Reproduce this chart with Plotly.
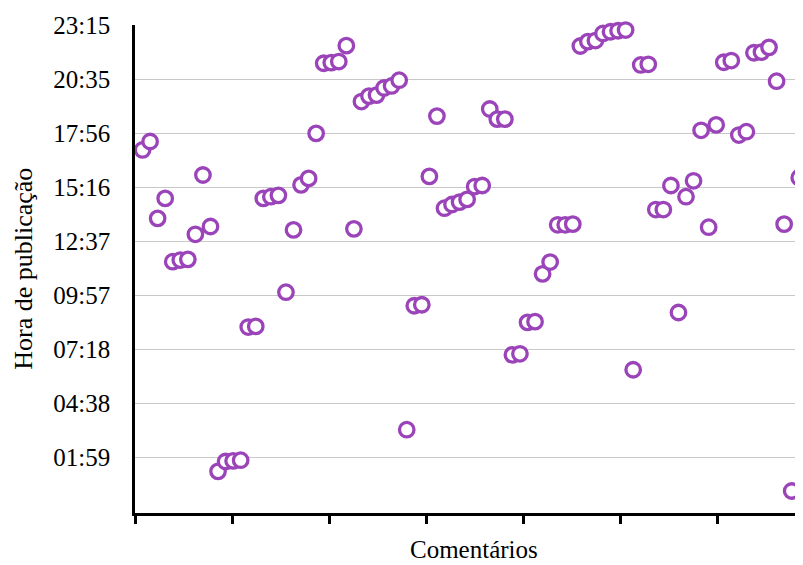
import plotly.graph_objects as go

# hora de publicação de cada comentário (HH:MM)
hora_publicacao = [
    "17:06", "17:31", "13:44", "14:43", "11:36", "11:41", "11:43", "12:57", "15:52", "13:20",
    "01:17", "01:46", "01:48", "01:50", "08:23", "08:25", "14:43", "14:48", "14:52", "10:06",
    "13:10", "15:23", "15:42", "17:55", "21:22", "21:24", "21:27", "22:14", "13:13", "19:29",
    "19:45", "19:48", "20:09", "20:15", "20:32", "03:20", "09:26", "09:29", "15:48", "18:46",
    "14:14", "14:25", "14:32", "14:40", "15:18", "15:21", "19:07", "18:37", "18:37", "07:01",
    "07:04", "08:37", "08:39", "11:00", "11:35", "13:25", "13:25", "13:27", "22:13", "22:26",
    "22:29", "22:50", "22:55", "22:58", "23:00", "06:17", "21:17", "21:19", "14:10", "14:10",
    "15:21", "09:06", "14:48", "15:35", "18:04", "13:18", "18:20", "21:25", "21:30", "17:50",
    "18:00", "21:53", "21:55", "22:09", "20:29", "13:27", "00:19", "15:44",
]
y_ticks = ["01:59", "04:38", "07:18", "09:57", "12:37", "15:16", "17:56", "20:35", "23:15"]


def to_min(s):
    h, m = s.split(":")
    return int(h) * 60 + int(m)


comentarios = list(range(1, len(hora_publicacao) + 1))
minutos = [to_min(s) for s in hora_publicacao]
tick_min = [to_min(s) for s in y_ticks]

font = "Liberation Serif, Times New Roman, serif"
purple = "#9B44B9"
x_range = [0, 88.5]

fig = go.Figure()
fig.add_trace(
    go.Scatter(x=comentarios, y=minutos, mode="markers", cliponaxis=False,
               marker=dict(symbol="circle", size=14.5, color="white",
                           line=dict(color=purple, width=3.3)),
               hovertext=hora_publicacao, hoverinfo="text")
)

# the page has an 8px body margin, so the figure is a bit smaller than the window
fig.update_layout(
    width=795, height=557,
    margin=dict(l=127, r=0, t=17, b=52),
    paper_bgcolor="white", plot_bgcolor="white",
    showlegend=False,
    font=dict(family=font, size=25, color="black"),
    xaxis=dict(range=x_range, showgrid=False, zeroline=False, automargin=False,
               showline=True, linecolor="black", linewidth=2.5,
               ticks="outside", ticklen=8, tickwidth=2.5, tickcolor="black",
               tick0=0, dtick=90 / 7, showticklabels=False),
    xaxis2=dict(range=x_range, overlaying="x", anchor="y", side="bottom",
                showgrid=False, zeroline=False, showline=False, automargin=False,
                ticks="inside", ticklen=8, tickwidth=2.5, tickcolor="black",
                tick0=0, dtick=90 / 7, showticklabels=False),
    yaxis=dict(range=[-46, 1395], showgrid=True, gridcolor="#C8C8C8", gridwidth=1.2,
               zeroline=False, showline=True, linecolor="black", linewidth=2.5,
               automargin=False, ticks="", tickvals=tick_min, ticktext=y_ticks,
               ticklabelstandoff=17),
    annotations=[
        dict(text="Comentários", xref="paper", yref="paper", x=0.508, y=-0.074,
             xanchor="center", yanchor="middle", showarrow=False, font=dict(size=25)),
        dict(text="Hora de publicação", xref="paper", yref="paper", x=-0.168, y=0.5,
             xanchor="center", yanchor="middle", textangle=-90, showarrow=False,
             font=dict(size=26)),
    ],
)

fig.write_html("out.html")
